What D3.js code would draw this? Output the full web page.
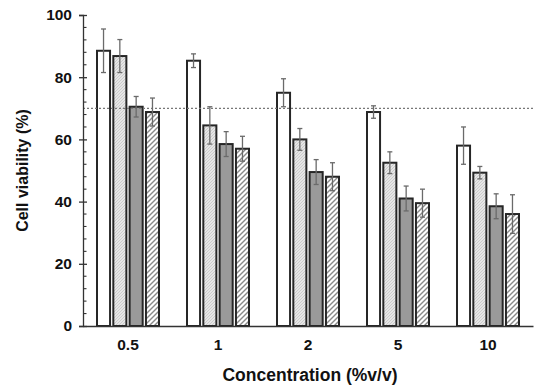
<!DOCTYPE html>
<html>
<head>
<meta charset="utf-8">
<style>
  body { margin: 0; background: #fff; }
  svg { font-family: Arial, 'Liberation Sans', sans-serif; }
  .tick text { font-weight: bold; font-size: 15.5px; fill: #111; }
</style>
</head>
<body>
<svg width="550" height="391"></svg>
<script src="https://d3js.org/d3.v7.min.js"></script>
<script>
// concentrations on the x axis
let concentrations = ["0.5", "1", "2", "5", "10"]
let seriesNames = ["s1", "s2", "s3", "s4"]

// mean cell viability per series, one value per concentration
let s1Values = [88.5, 85.3, 75.0, 68.8, 58.0]
let s2Values = [86.8, 64.5, 60.0, 52.5, 49.3]
let s3Values = [70.5, 58.5, 49.5, 41.0, 38.5]
let s4Values = [68.8, 57.0, 48.0, 39.5, 36.0]

// error (+/-)
let s1Err = [7.0, 2.2, 4.5, 2.0, 6.0]
let s2Err = [5.3, 6.0, 3.5, 3.5, 2.0]
let s3Err = [3.3, 4.0, 4.0, 4.0, 4.0]
let s4Err = [4.5, 4.0, 4.5, 4.5, 6.2]

let yTicks = [0, 20, 40, 60, 80, 100]
let threshold = 70

let values = [s1Values, s2Values, s3Values, s4Values]
let errs = [s1Err, s2Err, s3Err, s4Err]

let rows = []
concentrations.forEach((c, i) => {
    seriesNames.forEach((s, j) => {
        rows.push({ conc: c, series: s, idx: j, value: values[j][i], err: errs[j][i] })
    })
})

let svg = d3.select("svg")
let margin = { left: 83, right: 17, top: 15, bottom: 65 }
let width = 550, height = 391

let x = d3.scaleBand()
    .domain(concentrations)
    .range([margin.left, width - margin.right])
    .padding(0)

let xInner = d3.scaleBand()
    .domain(seriesNames)
    .range([-31, 31])
    .paddingInner(0.2)

let y = d3.scaleLinear()
    .domain([0, 100])
    .range([height - margin.bottom, margin.top])

// patterns
let defs = svg.append("defs")
let p2 = defs.append("pattern")
    .attr("id", "dots")
    .attr("width", 3).attr("height", 3)
    .attr("patternUnits", "userSpaceOnUse")
p2.append("rect").attr("width", 3).attr("height", 3).attr("fill", "#e6e6e6")
p2.append("path").attr("d", "M0,3 L3,0").attr("stroke", "#c4c4c4").attr("stroke-width", 0.8)

let p4 = defs.append("pattern")
    .attr("id", "stripes")
    .attr("width", 5).attr("height", 5)
    .attr("patternUnits", "userSpaceOnUse")
p4.append("rect").attr("width", 5).attr("height", 5).attr("fill", "#fff")
p4.append("path").attr("d", "M-1,6 L6,-1 M-1,1 L1,-1 M4,6 L6,4")
    .attr("stroke", "#8a8a8a").attr("stroke-width", 1.4)

let fills = ["#ffffff", "url(#dots)", "#9a9a9a", "url(#stripes)"]

// bars
svg.selectAll(".bar")
    .data(rows)
    .join("rect")
    .attr("class", "bar")
    .attr("x", d => x(d.conc) + x.bandwidth() / 2 + xInner(d.series))
    .attr("width", xInner.bandwidth())
    .attr("y", d => y(d.value))
    .attr("height", d => y(0) - y(d.value))
    .style("fill", (d) => fills[d.idx])
    .style("stroke", "#262626")
    .style("stroke-width", 2)

// threshold line
svg.append("line")
    .attr("x1", margin.left).attr("x2", width - margin.right)
    .attr("y1", y(threshold)).attr("y2", y(threshold))
    .style("stroke", "#777")
    .style("stroke-width", 1.3)
    .style("stroke-dasharray", "2,2")

// error bars
let cx = d => x(d.conc) + x.bandwidth() / 2 + xInner(d.series) + xInner.bandwidth() / 2
let eb = svg.selectAll(".err").data(rows).join("g").attr("class", "err")
    .style("stroke", "#6a6a6a").style("stroke-width", 1.3)
eb.append("line")
    .attr("x1", cx).attr("x2", cx)
    .attr("y1", d => y(d.value + d.err)).attr("y2", d => y(d.value - d.err))
eb.append("line")
    .attr("x1", d => cx(d) - 2.5).attr("x2", d => cx(d) + 2.5)
    .attr("y1", d => y(d.value + d.err)).attr("y2", d => y(d.value + d.err))
eb.append("line")
    .attr("x1", d => cx(d) - 2.5).attr("x2", d => cx(d) + 2.5)
    .attr("y1", d => y(d.value - d.err)).attr("y2", d => y(d.value - d.err))

// y axis
let yAxis = svg.append("g")
    .attr("transform", `translate(${margin.left},0)`)
    .call(d3.axisLeft(y).tickValues(yTicks).tickSize(4).tickPadding(7))
yAxis.select(".domain").attr("stroke", "#333").attr("stroke-width", 1.3)
yAxis.selectAll(".tick line").attr("x2", 4).attr("x1", -4).attr("stroke", "#333").attr("stroke-width", 1.3)

// minor ticks
svg.append("g")
    .selectAll("line")
    .data(d3.range(0, 101, 4).filter(v => v % 20 != 0))
    .join("line")
    .attr("x1", margin.left).attr("x2", margin.left + 3.5)
    .attr("y1", d => y(d)).attr("y2", d => y(d))
    .attr("stroke", "#333").attr("stroke-width", 1.1)

// x axis
let xAxis = svg.append("g")
    .attr("transform", `translate(0,${y(0)})`)
    .call(d3.axisBottom(x).tickSize(0).tickPadding(13))
xAxis.select(".domain").attr("stroke", "#333").attr("stroke-width", 1.3)

// axis titles
svg.append("text")
    .attr("x", (margin.left + width - margin.right) / 2 + 2)
    .attr("y", 381)
    .attr("text-anchor", "middle")
    .style("font-weight", "bold").style("font-size", "17.5px").style("fill", "#111")
    .text("Concentration (%v/v)")

svg.append("text")
    .attr("transform", `translate(28,${y(50)}) rotate(-90)`)
    .attr("text-anchor", "middle")
    .style("font-weight", "bold").style("font-size", "16px").style("fill", "#111")
    .text("Cell viability (%)")
</script>
</body>
</html>
